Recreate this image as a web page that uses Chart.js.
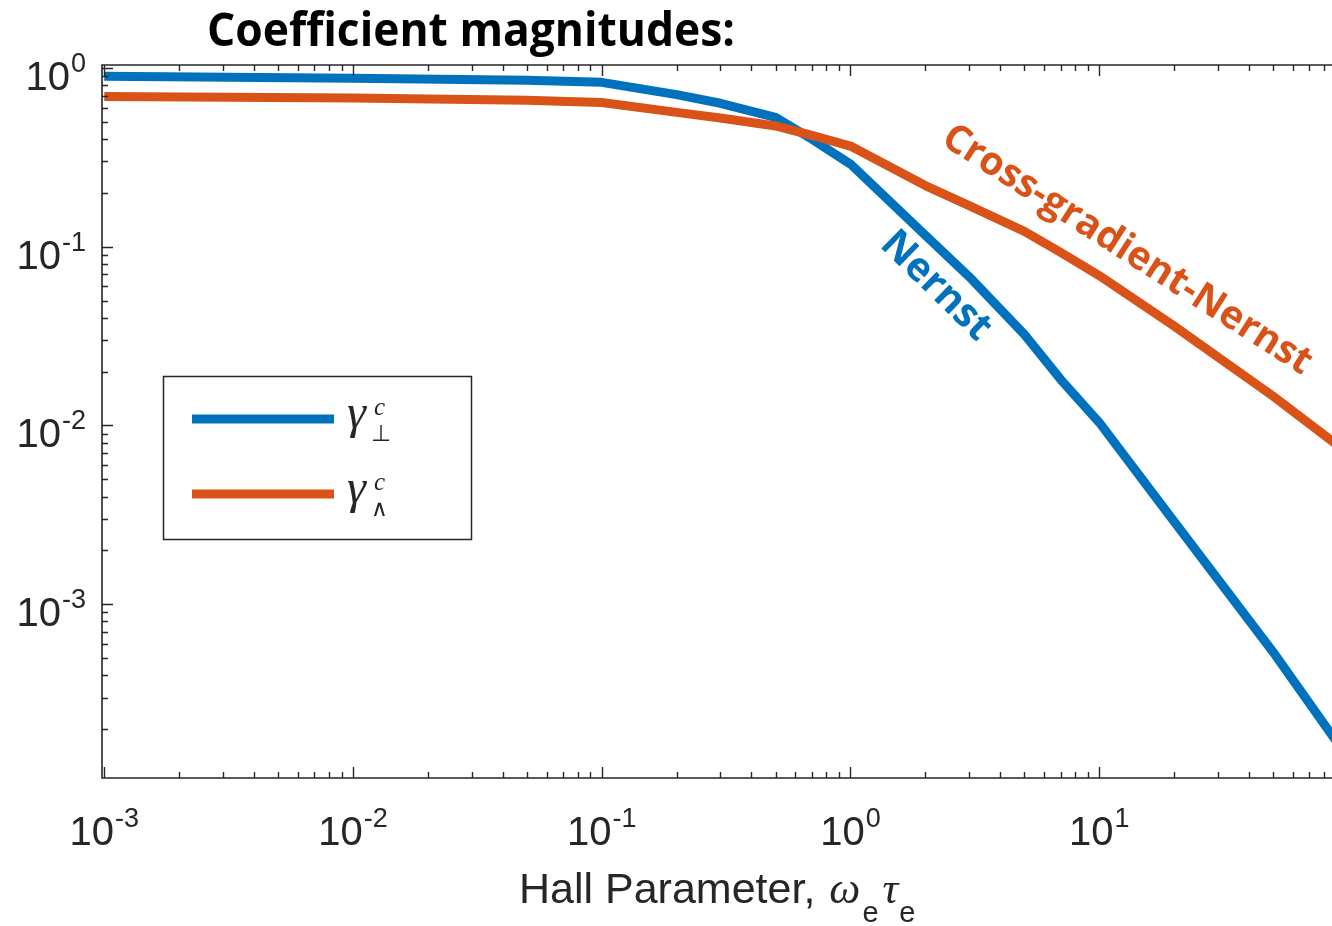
<!DOCTYPE html>
<html>
<head>
<meta charset="utf-8">
<script src="https://cdn.jsdelivr.net/npm/chart.js@4.4.1/dist/chart.umd.min.js"></script>
<style>
  html, body { margin: 0; padding: 0; background: #fff; }
  #wrap { width: 1332px; height: 926px; position: relative; }
</style>
</head>
<body>
<div id="wrap"><canvas id="chart" width="1332" height="926"></canvas></div>
<script>
// Hall parameter (x) and coefficient magnitudes
const hallParam = [0.001, 0.01, 0.05, 0.1, 0.2, 0.3, 0.5, 0.7, 1, 2, 3, 5, 7, 10, 20, 50, 100];
const nernstMag = [0.90, 0.877, 0.855, 0.832, 0.71, 0.635, 0.53, 0.40, 0.29, 0.116, 0.068, 0.0323, 0.0181, 0.0104, 0.0029, 0.00054, 0.000138];
const crossMag  = [0.692, 0.68, 0.66, 0.641, 0.565, 0.525, 0.474, 0.42, 0.366, 0.22, 0.17, 0.122, 0.093, 0.069, 0.036, 0.0146, 0.0070];

const xTickExps = [-3, -2, -1, 0, 1];
const yTickExps = [0, -1, -2, -3];
const xRange = [0.000979, 86.3];
const yRange = [1.064e-4, 1.04];

const BLUE = '#0072BD';
const ORANGE = '#D95319';
const AXIS = '#262626';

function pts(xs, ys) {
  return xs.map((v, i) => ({ x: v, y: ys[i] }));
}

// draws "10^exp" with its left edge at x
function drawPow(ctx, exp, x, base) {
  ctx.font = '40px "Liberation Sans", Arial, sans-serif';
  const w1 = ctx.measureText('10').width;
  ctx.fillText('10', x, base);
  ctx.font = '27px "Liberation Sans", Arial, sans-serif';
  ctx.fillText(exp < 0 ? '-' + Math.abs(exp) : String(exp), x + w1 + 1, base - 18);
}
function powWidth(ctx, exp) {
  ctx.font = '40px "Liberation Sans", Arial, sans-serif';
  const w1 = ctx.measureText('10').width;
  ctx.font = '27px "Liberation Sans", Arial, sans-serif';
  return w1 + 1 + ctx.measureText(exp < 0 ? '-' + Math.abs(exp) : String(exp)).width;
}

const matlabAxes = {
  id: 'matlabAxes',
  afterDatasetsDraw(chart) {
    const { ctx, chartArea: a, scales: { x, y } } = chart;
    ctx.save();
    ctx.strokeStyle = AXIS;
    ctx.lineWidth = 1.6;

    // box (right side is cut off by the image edge)
    ctx.beginPath();
    ctx.moveTo(1332, a.top); ctx.lineTo(a.left, a.top);
    ctx.lineTo(a.left, a.bottom); ctx.lineTo(1332, a.bottom);
    ctx.stroke();

    // tick marks, pointing inside
    ctx.lineWidth = 1.4;
    ctx.beginPath();
    for (let e = -4; e <= 2; e++) {
      for (let m = 1; m <= 9; m++) {
        const v = m * Math.pow(10, e);
        const len = m === 1 ? 11 : 6;
        if (v >= xRange[0] && v <= xRange[1]) {
          const px = Math.round(x.getPixelForValue(v)) + 0.5;
          ctx.moveTo(px, a.bottom); ctx.lineTo(px, a.bottom - len);
          ctx.moveTo(px, a.top); ctx.lineTo(px, a.top + len);
        }
        if (v >= yRange[0] && v <= yRange[1]) {
          const py = Math.round(y.getPixelForValue(v)) + 0.5;
          ctx.moveTo(a.left, py); ctx.lineTo(a.left + len, py);
        }
      }
    }
    ctx.stroke();

    // tick labels
    ctx.fillStyle = AXIS;
    ctx.textBaseline = 'alphabetic';
    ctx.textAlign = 'left';
    xTickExps.forEach(e => {
      const px = x.getPixelForValue(Math.pow(10, e));
      const w = powWidth(ctx, e);
      drawPow(ctx, e, px - w / 2, a.bottom + 67);
    });
    yTickExps.forEach(e => {
      const py = y.getPixelForValue(Math.pow(10, e));
      const w = powWidth(ctx, e);
      drawPow(ctx, e, 86 - w, py + 22);
    });

    // x axis label
    let cx = 519;
    const lb = 903;
    ctx.font = '43px "Liberation Sans", Arial, sans-serif';
    ctx.fillText('Hall Parameter,', cx, lb);
    cx += ctx.measureText('Hall Parameter,').width + 14;
    ctx.font = 'italic 44px "Liberation Serif", serif';
    ctx.fillText('\u03C9', cx, lb);
    cx += ctx.measureText('\u03C9').width + 2;
    ctx.font = '29px "Liberation Sans", Arial, sans-serif';
    ctx.fillText('e', cx, lb + 19);
    cx += ctx.measureText('e').width + 4;
    ctx.font = 'italic 44px "Liberation Serif", serif';
    ctx.fillText('\u03C4', cx, lb);
    cx += ctx.measureText('\u03C4').width + 1;
    ctx.font = '29px "Liberation Sans", Arial, sans-serif';
    ctx.fillText('e', cx, lb + 19);

    // legend box
    ctx.fillStyle = '#fff';
    ctx.fillRect(163, 376, 308, 163);
    ctx.strokeStyle = AXIS;
    ctx.lineWidth = 1.5;
    ctx.strokeRect(163.5, 376.5, 308, 163);
    ctx.lineWidth = 9;
    ctx.strokeStyle = BLUE;
    ctx.beginPath(); ctx.moveTo(192, 419); ctx.lineTo(334, 419); ctx.stroke();
    ctx.strokeStyle = ORANGE;
    ctx.beginPath(); ctx.moveTo(192, 494); ctx.lineTo(334, 494); ctx.stroke();
    ctx.fillStyle = AXIS;
    const entries = [{ b: 428, sub: '\u22A5' }, { b: 503, sub: '\u2227' }];
    entries.forEach(en => {
      ctx.font = 'italic 48px "Liberation Serif", serif';
      ctx.fillText('\u03B3', 347, en.b);
      ctx.font = 'italic 25px "Liberation Serif", serif';
      ctx.fillText('c', 374, en.b - 13);
      ctx.font = '23px "DejaVu Sans", sans-serif';
      ctx.fillText(en.sub, 371, en.b + 13);
    });

    // curve annotations
    ctx.textAlign = 'center';
    ctx.textBaseline = 'middle';
    ctx.save();
    ctx.translate(936, 286);
    ctx.rotate(44.4 * Math.PI / 180);
    ctx.fillStyle = BLUE;
    ctx.font = 'bold 40px "Open Sans", sans-serif';
    ctx.fillText('Nernst', 0, 0, 140);
    ctx.restore();

    ctx.save();
    ctx.translate(1127, 250);
    ctx.rotate(32.6 * Math.PI / 180);
    ctx.fillStyle = ORANGE;
    ctx.font = 'bold 39px "Open Sans", sans-serif';
    ctx.fillText('Cross-gradient-Nernst', 0, 0, 435);
    ctx.restore();

    // title
    ctx.textAlign = 'left';
    ctx.textBaseline = 'alphabetic';
    ctx.fillStyle = '#000';
    ctx.font = 'bold 46px "Open Sans", sans-serif';
    ctx.fillText('Coefficient magnitudes:', 207, 46, 528);

    ctx.restore();
  }
};

new Chart(document.getElementById('chart').getContext('2d'), {
  type: 'line',
  data: {
    datasets: [
      {
        label: 'gamma_perp',
        data: pts(hallParam, nernstMag),
        borderColor: BLUE,
        borderWidth: 9,
        order: 1
      },
      {
        label: 'gamma_wedge',
        data: pts(hallParam, crossMag),
        borderColor: ORANGE,
        borderWidth: 9,
        order: 0
      }
    ]
  },
  options: {
    responsive: false,
    animation: false,
    devicePixelRatio: 1,
    layout: { padding: { left: 102, top: 65, right: 0, bottom: 148 } },
    elements: {
      point: { radius: 0 },
      line: { tension: 0, borderJoinStyle: 'round', borderCapStyle: 'butt' }
    },
    datasets: { line: { clip: 0 } },
    scales: {
      x: { type: 'logarithmic', min: xRange[0], max: xRange[1], display: false },
      y: { type: 'logarithmic', min: yRange[0], max: yRange[1], display: false }
    },
    plugins: {
      legend: { display: false },
      tooltip: { enabled: false },
      title: { display: false }
    }
  },
  plugins: [matlabAxes]
});
</script>
</body>
</html>
